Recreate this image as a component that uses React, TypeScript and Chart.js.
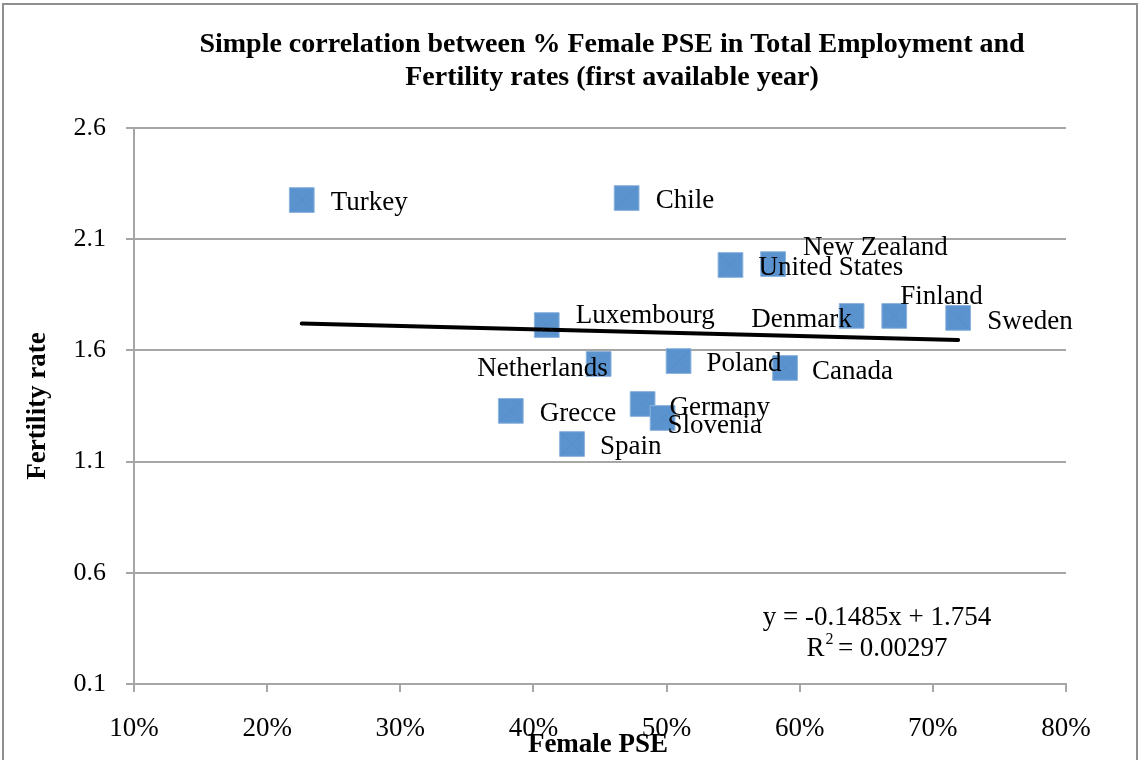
import React, { useEffect, useRef } from "react";
import { Chart, registerables } from "chart.js";

Chart.register(...registerables);

const COUNTRIES = [
  "Turkey", "Chile", "United States", "New Zealand", "Luxembourg",
  "Denmark", "Finland", "Sweden", "Netherlands", "Poland",
  "Canada", "Grecce", "Germany", "Slovenia", "Spain",
];
const FEMALE_PSE = [
  0.226, 0.470, 0.548, 0.580, 0.410,
  0.639, 0.671, 0.719, 0.449, 0.509,
  0.589, 0.383, 0.482, 0.497, 0.429,
];
const FERTILITY = [
  2.276, 2.285, 1.984, 1.988, 1.714,
  1.755, 1.755, 1.746, 1.539, 1.552,
  1.521, 1.328, 1.359, 1.296, 1.179,
];
const TREND_SLOPE = -0.1485;
const TREND_INTERCEPT = 1.754;
const TREND_R2 = "0.00297";
const Y_TICKS = [0.1, 0.6, 1.1, 1.6, 2.1, 2.6];
const X_TICKS = [0.1, 0.2, 0.3, 0.4, 0.5, 0.6, 0.7, 0.8];
const TITLE_LINES = [
  "Simple correlation between % Female PSE in Total Employment and",
  "Fertility rates (first available year)",
];
const X_TITLE = "Female PSE";
const Y_TITLE = "Fertility rate";

// label placement style: [dx, dy, align]
const LABEL_STYLE: [number, number, "left" | "right"][] = [
  [29, 3, "left"], [29, 3, "left"], [28, 3, "left"], [30, -16, "left"], [29, -9, "left"],
  [0, 4, "right"], [6, -19, "left"], [29, 4, "left"], [9, 5, "right"], [28, 3, "left"],
  [27, 4, "left"], [29, 3, "left"], [27, 4, "left"], [5, 8, "left"], [28, 3, "left"],
];

const SERIF = "'Liberation Serif', 'Times New Roman', serif";
const GRID = "#a6a6a6";

const decorPlugin = {
  id: "decor",
  beforeDraw(chart: any) {
    const ctx = chart.ctx;
    ctx.save();
    ctx.fillStyle = "#fff";
    ctx.fillRect(0, 0, chart.width, chart.height);
    ctx.strokeStyle = "#8f8f8f";
    ctx.lineWidth = 2;
    ctx.strokeRect(3, 4, chart.width - 6, chart.height + 20);
    ctx.restore();
  },
  afterDatasetsDraw(chart: any) {
    const ctx = chart.ctx;
    const meta = chart.getDatasetMeta(1);
    ctx.save();
    ctx.strokeStyle = "rgba(70,120,180,0.22)";
    ctx.lineWidth = 1;
    meta.data.forEach((pt: any) => {
      const s = 12;
      ctx.beginPath();
      ctx.moveTo(pt.x - s, pt.y - s);
      ctx.lineTo(pt.x + s, pt.y + s);
      ctx.moveTo(pt.x + s, pt.y - s);
      ctx.lineTo(pt.x - s, pt.y + s);
      ctx.stroke();
    });
    ctx.fillStyle = "#000";
    ctx.font = `27px ${SERIF}`;
    ctx.textBaseline = "middle";
    meta.data.forEach((pt: any, i: number) => {
      const [dx, dy, align] = LABEL_STYLE[i];
      ctx.textAlign = align;
      ctx.fillText(COUNTRIES[i], pt.x + dx, pt.y + dy);
    });
    ctx.restore();
  },
  afterDraw(chart: any) {
    const ctx = chart.ctx;
    const area = chart.chartArea;
    const cx = (area.left + area.right) / 2;
    ctx.save();
    ctx.fillStyle = "#000";
    ctx.textBaseline = "middle";
    ctx.textAlign = "center";
    ctx.font = `bold 28px ${SERIF}`;
    ctx.fillText(TITLE_LINES[0], cx + 12, area.top - 83);
    ctx.fillText(TITLE_LINES[1], cx + 12, area.top - 50);
    ctx.font = `bold 27px ${SERIF}`;
    ctx.fillText(X_TITLE, cx - 2, area.bottom + 61);
    ctx.save();
    ctx.translate(38, (area.top + area.bottom) / 2);
    ctx.rotate(-Math.PI / 2);
    ctx.fillText(Y_TITLE, 0, 0);
    ctx.restore();
    ctx.font = `27px ${SERIF}`;
    const ex = area.right - 189;
    ctx.fillText(`y = ${TREND_SLOPE}x + ${TREND_INTERCEPT}`, ex, area.bottom - 66);
    const r2 = `R  = ${TREND_R2}`;
    ctx.fillText(r2, ex, area.bottom - 35);
    const w = ctx.measureText(r2).width;
    const rw = ctx.measureText("R").width;
    ctx.font = `16px ${SERIF}`;
    ctx.textAlign = "left";
    ctx.fillText("2", ex - w / 2 + rw + 1, area.bottom - 44);
    ctx.restore();
  },
};

export default function App() {
  const ref = useRef<HTMLCanvasElement | null>(null);
  useEffect(() => {
    if (!ref.current) return;
    const xs = FEMALE_PSE;
    const xMin = Math.min(...xs);
    const xMax = Math.max(...xs);
    const points = xs.map((x, i) => ({ x, y: FERTILITY[i] }));
    const trend = [
      { x: xMin, y: TREND_SLOPE * xMin + TREND_INTERCEPT },
      { x: xMax, y: TREND_SLOPE * xMax + TREND_INTERCEPT },
    ];
    const chart = new Chart(ref.current, {
      type: "scatter",
      data: {
        datasets: [
          {
            label: "Linear",
            data: trend,
            showLine: true,
            borderColor: "#000",
            borderWidth: 4,
            pointRadius: 0,
            borderCapStyle: "round",
            order: 0,
          } as any,
          {
            label: "Countries",
            data: points,
            pointStyle: "rect",
            pointRadius: 17.5,
            pointBackgroundColor: "#5b93cf",
            pointBorderColor: "#8db4de",
            pointBorderWidth: 1,
            order: 1,
          } as any,
        ],
      },
      options: {
        responsive: false,
        animation: false,
        layout: { padding: { top: 128, right: 74, left: 0, bottom: 0 } },
        plugins: {
          legend: { display: false },
          tooltip: { enabled: false },
          title: { display: false },
        },
        scales: {
          x: {
            type: "linear",
            min: 0.1,
            max: 0.8,
            afterFit: (s: any) => { s.height = 76; },
            afterBuildTicks: (s: any) => { s.ticks = X_TICKS.map((v) => ({ value: v })); },
            ticks: {
              padding: 21,
              color: "#000",
              font: { family: SERIF, size: 27 },
              callback: (v: any) => `${Math.round(Number(v) * 100)}%`,
            },
            grid: { drawOnChartArea: false, drawTicks: true, tickLength: 8, color: GRID, lineWidth: 2 },
            border: { display: true, color: GRID, width: 2 },
          },
          y: {
            type: "linear",
            min: 0.1,
            max: 2.6,
            afterFit: (s: any) => { s.width = 134; },
            afterBuildTicks: (s: any) => { s.ticks = Y_TICKS.map((v) => ({ value: v })); },
            ticks: {
              padding: 20,
              color: "#000",
              font: { family: SERIF, size: 26 },
              callback: (v: any) => Number(v).toFixed(1),
            },
            grid: { drawOnChartArea: true, drawTicks: true, tickLength: 8, color: GRID, lineWidth: 2 },
            border: { display: true, color: GRID, width: 2 },
          },
        },
      } as any,
      plugins: [decorPlugin],
    });
    return () => chart.destroy();
  }, []);
  return (
    <div style={{ position: "absolute", left: 0, top: 0, width: 1140, height: 760 }}>
      <canvas ref={ref} width={1140} height={760} style={{ width: 1140, height: 760 }} />
    </div>
  );
}
